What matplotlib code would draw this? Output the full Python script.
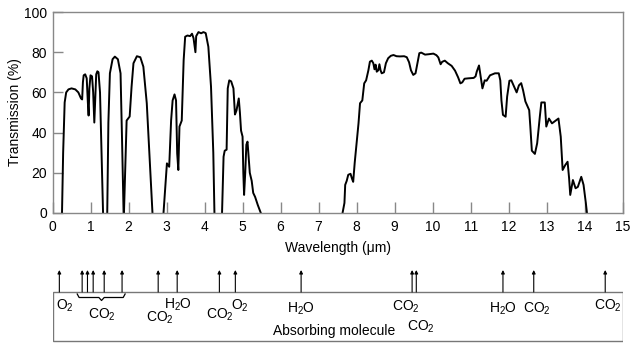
import numpy as np
import matplotlib
matplotlib.use("Agg")
import matplotlib.pyplot as plt

plt.rcParams['font.family'] = ['Liberation Sans', 'DejaVu Sans']
plt.rcParams['mathtext.default'] = 'regular'

nan = np.nan
# transmission curve, bands separated by nan
wavelength = [
    0.25, 0.28, 0.32, 0.36, 0.42, 0.50, 0.60, 0.68, 0.75, 0.78, 0.80, 0.82, 0.86, 0.90,
    0.93, 0.95, 0.97, 1.00, 1.04, 1.07, 1.10, 1.12, 1.15, 1.18, 1.21, 1.25, 1.29, 1.33, nan,
    1.44, 1.47, 1.51, 1.58, 1.64, 1.72, 1.79, 1.83, 1.87, nan,
    1.88, 1.95, 2.03, 2.08, 2.13, 2.22, 2.31, 2.39, 2.48, 2.57, 2.63, nan,
    2.92, 3.01, 3.07, 3.12, 3.16, 3.21, 3.25, 3.28, 3.31, 3.34, 3.40, 3.45, 3.49, 3.55,
    3.62, 3.67, 3.71, 3.76, 3.78, 3.84, 3.91, 3.97, 4.03, 4.10, 4.17, 4.23, 4.26, nan,
    4.46, 4.50, 4.53, 4.58, 4.61, 4.65, 4.70, 4.76, 4.80, 4.84, 4.90, 4.93, 4.96, 5.00,
    5.02, 5.04, 5.07, 5.10, 5.13, 5.16, 5.19, 5.24, 5.28, 5.33, 5.40, 5.48, nan,
    7.63, 7.68, 7.70, 7.74, 7.78, 7.84, 7.88, 7.91, 7.95, 8.05, 8.09, 8.15, 8.20, 8.25,
    8.31, 8.35, 8.40, 8.44, 8.47, 8.50, 8.53, 8.57, 8.60, 8.63, 8.66, 8.72, 8.77, 8.83,
    8.90, 8.97, 9.05, 9.14, 9.25, 9.32, 9.38, 9.43, 9.49, 9.55, 9.60, 9.65, 9.70, 9.80,
    9.90, 10.02, 10.10, 10.15, 10.21, 10.25, 10.32, 10.40, 10.50, 10.59, 10.67, 10.73,
    10.78, 10.84, 10.94, 11.08, 11.13, 11.16, 11.22, 11.27, 11.31, 11.37, 11.42, 11.51,
    11.64, 11.74, 11.78, 11.81, 11.85, 11.92, 11.96, 12.02, 12.07, 12.14, 12.21, 12.27,
    12.33, 12.38, 12.44, 12.50, 12.54, 12.57, 12.61, 12.69, 12.75, 12.82, 12.86, 12.95,
    12.99, 13.06, 13.14, 13.21, 13.31, 13.37, 13.42, 13.49, 13.55, 13.59, 13.62, 13.69,
    13.76, 13.82, 13.91, 13.97, 14.03, 14.06,
]
transmission = [
    0, 30, 55, 60, 61.5, 62, 61.5, 60, 57, 56.5, 65, 68.5, 69, 67,
    55, 48.5, 62, 68.5, 68, 60, 45, 55, 69, 70.5, 70, 60, 30, 0, nan,
    0, 45, 69.5, 76.5, 77.8, 76.5, 69.5, 36, 0, nan,
    0, 46, 48, 62.8, 74.5, 78, 77.5, 72.8, 54.6, 21.4, 0, nan,
    0, 24.7, 23, 46, 56, 59, 56, 29.7, 21.4, 43, 46, 76, 87.7, 88.3,
    88, 89.2, 87, 80, 88, 90, 89.4, 90, 89.5, 82.7, 62.8, 30, 0, nan,
    0, 28, 31, 31.5, 62, 66, 65.5, 62, 49, 51, 57, 50, 41, 38,
    20, 9, 20, 34, 35.5, 28, 20, 16, 10, 8, 4, 0, nan,
    0, 5, 14, 16, 19, 19.5, 17, 15.5, 25, 44.6, 54.6, 56, 64.5, 66,
    71, 75.3, 75.8, 74.5, 71.5, 73.8, 70.3, 71, 74, 71, 69.5, 70, 74.5, 77,
    78.2, 78.6, 78, 77.9, 78, 77.5, 75, 71, 68.7, 69.5, 74.5, 79.5, 79.8, 78.8,
    79, 79.3, 78.5, 77.4, 74, 75.2, 75.8, 74.5, 73.2, 70.8, 67.5, 64.5,
    65, 66.8, 67, 67.2, 68, 70.3, 73.4, 67, 62, 66, 65.8, 68.5,
    69.5, 69.5, 66, 56, 48.8, 47.9, 57.9, 65.8, 66, 63, 60, 63.5,
    64.6, 61, 55.5, 53, 51.2, 43, 31, 29.4, 34.7, 48, 55, 55,
    43, 47, 44.6, 45.6, 47, 38, 21.4, 23.9, 25.5, 17.3, 9, 16.4,
    12.3, 13, 18, 14, 5, 0,
]

# absorbing molecules: arrow wavelengths
absorption_lines = [0.18, 0.78, 0.92, 1.07, 1.36, 1.83, 2.78, 3.28, 4.39, 4.81,
                    6.54, 9.46, 9.57, 11.85, 12.66, 14.54]
molecule_labels = ['O$_2$', 'CO$_2$', 'H$_2$O', 'CO$_2$', 'CO$_2$', 'O$_2$', 'H$_2$O',
                   'CO$_2$', 'CO$_2$', 'H$_2$O', 'CO$_2$', 'CO$_2$']
label_x = [0.32, 1.29, 3.30, 2.83, 4.40, 4.93, 6.54, 9.30, 9.70, 11.86, 12.75, 14.62]
label_y = [306, 315, 305, 318, 315, 306, 309, 307, 327, 309, 309, 306]

W, H = 644, 353
fig = plt.figure(figsize=(W / 100, H / 100), dpi=100)

x0, x1 = 52.5, 622.7
ax = fig.add_axes([x0 / W, 1 - 213 / H, (x1 - x0) / W, 201 / H])
ax.plot(wavelength, transmission, color='black', lw=1.4, solid_joinstyle='round')
ax.set_xlim(0, 15)
ax.set_ylim(0, 100)
ax.set_xticks(range(0, 16))
ax.set_yticks(range(0, 101, 20))
ax.tick_params(axis='both', direction='in', labelsize=10, color='#888888', width=1)
ax.tick_params(axis='x', length=8, pad=5)
ax.tick_params(axis='y', length=7, pad=4)
for s in ax.spines.values():
    s.set_color('#888888')
    s.set_linewidth(1)
ax.set_xlabel('Wavelength (\u03bcm)', fontsize=10, labelpad=5)
ax.set_ylabel('Transmission (%)', fontsize=10, labelpad=1)

# bottom panel, y in pixel-like units
bx = fig.add_axes([x0 / W, 1 - 345 / H, (x1 - x0) / W, 83 / H])
bx.set_xlim(0, 15)
bx.set_ylim(345, 262)
bx.axis('off')
bx.add_patch(plt.Rectangle((0, 291.7), 15, 49.3, fill=False, ec='#777777', lw=1))
for lam in absorption_lines:
    bx.annotate('', xy=(lam, 270), xytext=(lam, 292),
                arrowprops=dict(arrowstyle='-|>', color='black', lw=0.8,
                                mutation_scale=5, shrinkA=0, shrinkB=0))
for txt, lx, ly in zip(molecule_labels, label_x, label_y):
    bx.text(lx, ly, txt, fontsize=10, ha='center', va='center')
bx.text(7.4, 331, 'Absorbing molecule', fontsize=10, ha='center', va='center')

# brace under the CO2 group
brace_x = [0.65, 0.70, 1.22, 1.29, 1.36, 1.86, 1.91]
brace_y = [294, 297.5, 297.5, 300.5, 297.5, 297.5, 294]
bx.plot(brace_x, brace_y, color='black', lw=0.9)

fig.savefig('out.png', dpi=100)
